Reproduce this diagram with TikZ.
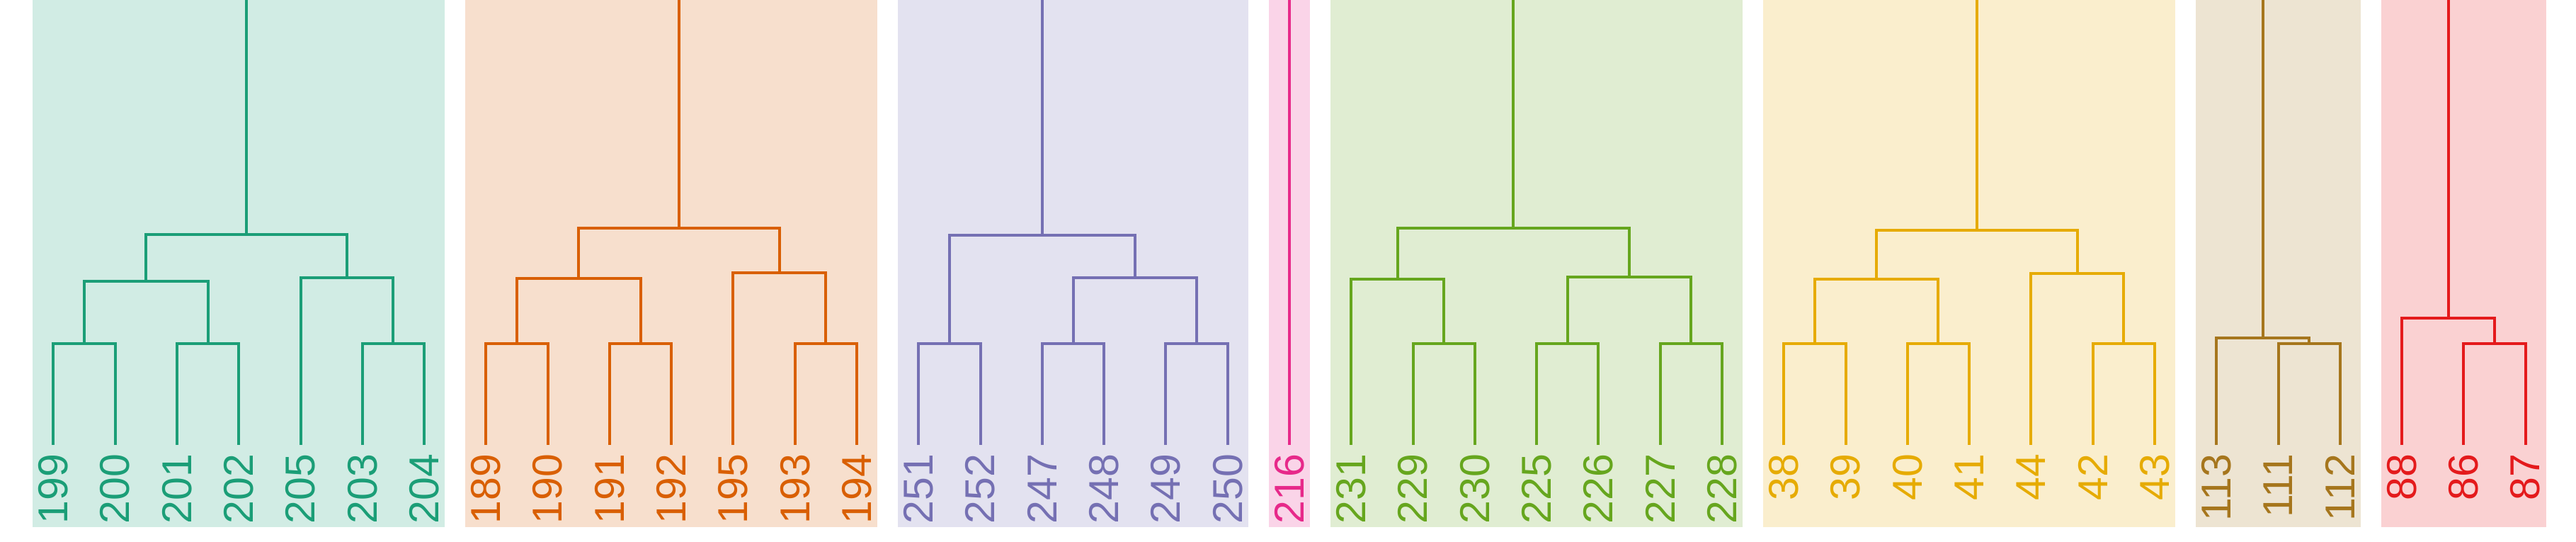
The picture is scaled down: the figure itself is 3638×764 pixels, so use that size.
\documentclass[tikz,border=0pt]{standalone}
\usepackage{fontspec}
\setmainfont{Liberation Sans}
\usetikzlibrary{calc}
\definecolor{cA}{HTML}{1B9E77}
\definecolor{cB}{HTML}{D95F02}
\definecolor{cC}{HTML}{7570B3}
\definecolor{cD}{HTML}{E7298A}
\definecolor{cE}{HTML}{66A61E}
\definecolor{cF}{HTML}{E6AB02}
\definecolor{cG}{HTML}{A6761D}
\definecolor{cH}{HTML}{E41A1C}
\tikzset{
  lbl/.style={rotate=90,anchor=east,inner sep=0pt,outer sep=0pt,font=\fontsize{59}{59}\selectfont},
  link/.style={line width=4pt},
}
% leaf: index, label, colour
\newcommand{\lf}[3]{\coordinate (L#2) at ({75.4+87.28*#1},628);
  \node[lbl,text=#3] (T#2) at ({75.4+87.28*#1},641) {#2};}
% join: name, child1, child2, height, colour
\newcommand{\jn}[5]{\coordinate (#1) at ($(#2)!.5!(#3)$);
  \coordinate (#1) at (#1 |- 0,#4);
  \draw[link,#5] (#2) |- (#1) -| (#3);}
% panel: first index, last index, colour
\newcommand{\pnl}[3]{\fill[#3!20] ({75.4+87.28*#1-29.4},0) rectangle ({75.4+87.28*#2+29.4},744);}
% root stem: name, colour
\newcommand{\stem}[2]{\coordinate (#1top) at (#1 |- 0,0); \draw[link,#2] (#1) -- (#1top);}
\begin{document}
\begin{tikzpicture}[x=1pt,y=-1pt]
\useasboundingbox (0,0) rectangle (3638,764);
\fill[white] (0,0) rectangle (3638,764);
\pnl{0}{6}{cA}
\pnl{7}{13}{cB}
\pnl{14}{19}{cC}
\pnl{20}{20}{cD}
\pnl{21}{27}{cE}
\pnl{28}{34}{cF}
\pnl{35}{37}{cG}
\pnl{38}{40}{cH}
% green
\lf{0}{199}{cA}\lf{1}{200}{cA}\lf{2}{201}{cA}\lf{3}{202}{cA}\lf{4}{205}{cA}\lf{5}{203}{cA}\lf{6}{204}{cA}
\jn{a1}{L199}{L200}{484.7}{cA}
\jn{a2}{L201}{L202}{484.7}{cA}
\jn{a3}{L203}{L204}{484.7}{cA}
\jn{a4}{a1}{a2}{397.3}{cA}
\jn{a5}{L205}{a3}{392}{cA}
\jn{a6}{a4}{a5}{331}{cA}
\stem{a6}{cA}
% orange
\lf{7}{189}{cB}\lf{8}{190}{cB}\lf{9}{191}{cB}\lf{10}{192}{cB}\lf{11}{195}{cB}\lf{12}{193}{cB}\lf{13}{194}{cB}
\jn{b1}{L189}{L190}{484.7}{cB}
\jn{b2}{L191}{L192}{484.7}{cB}
\jn{b3}{L193}{L194}{484.7}{cB}
\jn{b4}{b1}{b2}{393}{cB}
\jn{b5}{L195}{b3}{385.3}{cB}
\jn{b6}{b4}{b5}{321.7}{cB}
\stem{b6}{cB}
% purple
\lf{14}{251}{cC}\lf{15}{252}{cC}\lf{16}{247}{cC}\lf{17}{248}{cC}\lf{18}{249}{cC}\lf{19}{250}{cC}
\jn{c1}{L251}{L252}{484.7}{cC}
\jn{c2}{L247}{L248}{484.7}{cC}
\jn{c3}{L249}{L250}{484.7}{cC}
\jn{c4}{c2}{c3}{392.3}{cC}
\jn{c5}{c1}{c4}{332.3}{cC}
\stem{c5}{cC}
% pink
\lf{20}{216}{cD}
\stem{L216}{cD}
% lime
\lf{21}{231}{cE}\lf{22}{229}{cE}\lf{23}{230}{cE}\lf{24}{225}{cE}\lf{25}{226}{cE}\lf{26}{227}{cE}\lf{27}{228}{cE}
\jn{e1}{L229}{L230}{484.7}{cE}
\jn{e2}{L225}{L226}{484.7}{cE}
\jn{e3}{L227}{L228}{484.7}{cE}
\jn{e4}{L231}{e1}{393.7}{cE}
\jn{e5}{e2}{e3}{391}{cE}
\jn{e6}{e4}{e5}{322.3}{cE}
\stem{e6}{cE}
% yellow
\lf{28}{38}{cF}\lf{29}{39}{cF}\lf{30}{40}{cF}\lf{31}{41}{cF}\lf{32}{44}{cF}\lf{33}{42}{cF}\lf{34}{43}{cF}
\jn{f1}{L38}{L39}{484.7}{cF}
\jn{f2}{L40}{L41}{484.7}{cF}
\jn{f3}{L42}{L43}{484.7}{cF}
\jn{f4}{f1}{f2}{393.7}{cF}
\jn{f5}{L44}{f3}{385.7}{cF}
\jn{f6}{f4}{f5}{324.7}{cF}
\stem{f6}{cF}
% brown
\lf{35}{113}{cG}\lf{36}{111}{cG}\lf{37}{112}{cG}
\jn{g1}{L111}{L112}{484.7}{cG}
\jn{g2}{L113}{g1}{477}{cG}
\stem{g2}{cG}
% red
\lf{38}{88}{cH}\lf{39}{86}{cH}\lf{40}{87}{cH}
\jn{h1}{L86}{L87}{484.7}{cH}
\jn{h2}{L88}{h1}{449}{cH}
\stem{h2}{cH}
\end{tikzpicture}
\end{document}
